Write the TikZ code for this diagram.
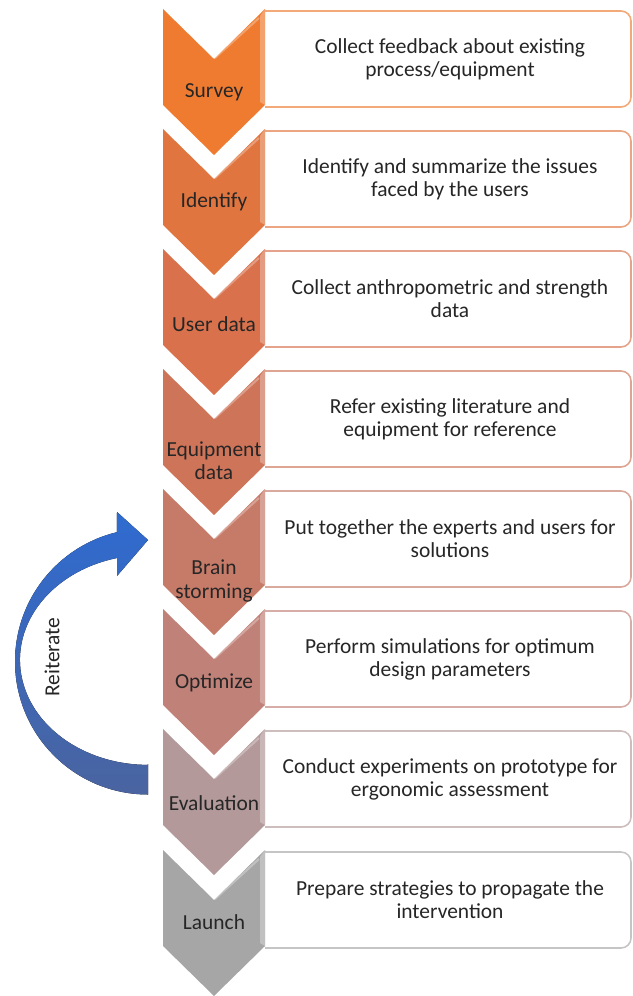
\documentclass[tikz,border=0pt]{standalone}
\usepackage{fontspec}
\setmainfont{Carlito}
\usepackage{tikz}
\usetikzlibrary{positioning}
\definecolor{c1}{HTML}{EE7B30}
\definecolor{c2}{HTML}{E0753F}
\definecolor{c3}{HTML}{D8714C}
\definecolor{c4}{HTML}{CE7459}
\definecolor{c5}{HTML}{C67A68}
\definecolor{c6}{HTML}{C08178}
\definecolor{c7}{HTML}{B3999A}
\definecolor{c8}{HTML}{A6A6A6}
\definecolor{arrtop}{HTML}{2F6BD0}
\definecolor{arrbot}{HTML}{4A64A0}
\colorlet{txtcol}{black!85}
\tikzstyle{box}=[line width=0.9pt,fill=white]
\tikzstyle{bevel}=[white,opacity=0.3]
\tikzstyle{lab}=[font=\fontsize{12.2}{13.2}\selectfont,text=txtcol,align=center,inner sep=0]
\tikzstyle{desc}=[lab]

\begin{document}
\begin{tikzpicture}[x=0.02cm,y=-0.02cm]
  \def\xl{163}   % chevron left
  \def\xr{265}   % chevron right = box left
  \def\xb{631}   % box right
  \def\notch{50} % notch depth
  \def\side{96}  % chevron side height
  \def\rad{10}   % box corner radius
  \useasboundingbox (0,0) rectangle (632,996);

  % STEPS
  \foreach \i/\ty/\dy/\lab/\txt in {
      1/9/83/Survey/{Collect feedback about existing\\process/equipment},
      2/129/73/Identify/{Identify and summarize the issues\\faced by the users},
      3/249/75/User data/{Collect anthropometric and strength\\data},
      4/369/92/{Equipment\\data}/{Refer existing literature and\\equipment for reference},
      5/489/92/{Brain\\storming}/{Put together the experts and users for\\solutions},
      6/609/74/Optimize/{Perform simulations for optimum\\design parameters},
      7/729/74/Evaluation/{Conduct experiments on prototype for\\ergonomic assessment},
      8/850/72/Launch/{Prepare strategies to propagate the\\intervention}}{
    \draw[box,draw=c\i!65!white] (\xr,\ty+2) -- (\xb-\rad,\ty+2)
      arc[start angle=-90,end angle=0,radius=\rad] -- (\xb,\ty+98-\rad)
      arc[start angle=0,end angle=90,radius=\rad] -- (\xr,\ty+98);
    \fill[c\i] (\xl,\ty) -- (\xl+51,\ty+\notch) -- (\xr,\ty) -- (\xr,\ty+\side)
      -- (\xl+51,\ty+\side+\notch) -- (\xl,\ty+\side) -- cycle;
    \fill[bevel] (\xr-5,\ty+7) -- (\xr,\ty) -- (\xr,\ty+\side) -- (\xr-5,\ty+\side-3) -- cycle;
    \draw[bevel,line width=1.2pt] (\xl+52,\ty+\notch-1) -- (\xr-6,\ty+9);
    \node[lab] (lab\i) at (\xl+51,\ty+\dy) {\lab};
    \node[desc] (txt\i) at (450,\ty+50) {\txt};
  }

  % REITERATE ARROW
  \fill[top color=arrtop,bottom color=arrbot] (148,764) -- (148,794.5)
    arc[start angle=90,end angle=256.5,radius=133] -- (117,512) -- (148,540)
    -- (117,576) -- (117,558)
    arc[start angle=256,end angle=90,x radius=128,y radius=105] -- cycle;
  \node[lab,rotate=90] (reit) at (52,657) {Reiterate};

\end{tikzpicture}
\end{document}
